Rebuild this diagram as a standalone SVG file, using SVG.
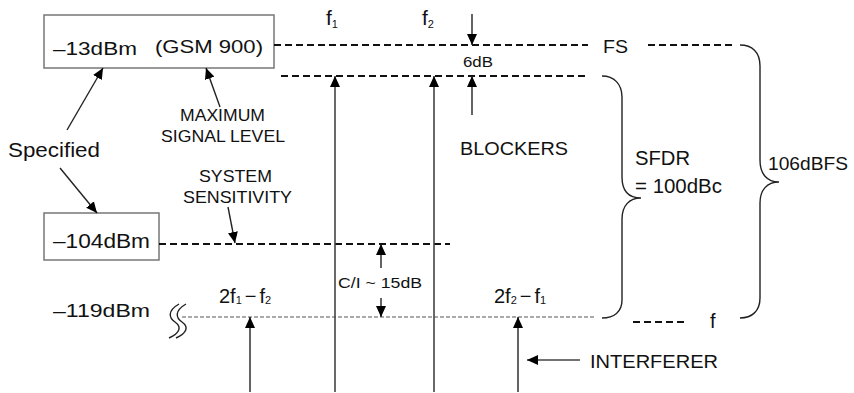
<svg xmlns="http://www.w3.org/2000/svg" width="854" height="393" viewBox="0 0 854 393">
<style>
text{font-family:"Liberation Sans",Arial,sans-serif;fill:#111}
.box{fill:#fff;stroke:#777;stroke-width:1.5}
.dash{stroke:#111;stroke-width:1.9;stroke-dasharray:7 4;fill:none}
.thin{stroke:#555;stroke-width:1;stroke-dasharray:4 2;fill:none}
.ln{stroke:#222;stroke-width:1.4;fill:none}
.vl{stroke:#444;stroke-width:1.6;fill:none}
.br{stroke:#222;stroke-width:1.4;fill:none}
</style>
<defs>
<marker id="ah" markerUnits="userSpaceOnUse" markerWidth="11" markerHeight="10" viewBox="0 0 11 10" refX="11" refY="5" orient="auto">
<path d="M0,0 L11,5 L0,10 z" fill="#000"/>
</marker>
</defs>

<g id="box-max">
<rect class="box" x="44" y="15" width="230" height="53"/>
<text x="53" y="55" font-size="19" textLength="84" lengthAdjust="spacingAndGlyphs">–13dBm</text>
<text x="155" y="53" font-size="19" textLength="108" lengthAdjust="spacingAndGlyphs">(GSM 900)</text>
</g>
<g id="box-sens">
<rect class="box" x="44" y="213" width="115" height="47"/>
<text x="53" y="248" font-size="20" textLength="97" lengthAdjust="spacingAndGlyphs">–104dBm</text>
</g>
<g id="label-119">
<text x="53" y="317" font-size="19" textLength="97" lengthAdjust="spacingAndGlyphs">–119dBm</text>
</g>
<g id="label-specified">
<text x="8" y="157" font-size="21" textLength="92" lengthAdjust="spacingAndGlyphs">Specified</text>
</g>
<g id="label-maximum">
<text x="180" y="121" font-size="16.5" textLength="85" lengthAdjust="spacingAndGlyphs">MAXIMUM</text>
<text x="161" y="142" font-size="16.5" textLength="124" lengthAdjust="spacingAndGlyphs">SIGNAL LEVEL</text>
</g>
<g id="label-sensitivity">
<text x="199" y="182" font-size="16.5" textLength="73" lengthAdjust="spacingAndGlyphs">SYSTEM</text>
<text x="183" y="203" font-size="16.5" textLength="109" lengthAdjust="spacingAndGlyphs">SENSITIVITY</text>
</g>
<g id="label-f1">
<text x="326" y="25" font-size="21">f<tspan font-size="11" dy="3">1</tspan></text>
</g>
<g id="label-f2">
<text x="422" y="25" font-size="21">f<tspan font-size="11" dy="3">2</tspan></text>
</g>
<g id="label-6db">
<text x="463" y="67" font-size="15" textLength="30" lengthAdjust="spacingAndGlyphs">6dB</text>
</g>
<g id="label-fs">
<text x="603" y="53" font-size="18" textLength="25" lengthAdjust="spacingAndGlyphs">FS</text>
</g>
<g id="label-blockers">
<text x="460" y="155" font-size="19" textLength="108" lengthAdjust="spacingAndGlyphs">BLOCKERS</text>
</g>
<g id="label-sfdr">
<text x="635" y="165" font-size="20" textLength="55" lengthAdjust="spacingAndGlyphs">SFDR</text>
<text x="635" y="193" font-size="20" textLength="87" lengthAdjust="spacingAndGlyphs">= 100dBc</text>
</g>
<g id="label-106">
<text x="768" y="170" font-size="19" textLength="80" lengthAdjust="spacingAndGlyphs">106dBFS</text>
</g>
<g id="label-ci">
<text x="338" y="288" font-size="15" textLength="84" lengthAdjust="spacingAndGlyphs">C/I ~ 15dB</text>
</g>
<g id="label-im1">
<text x="219" y="303" font-size="20">2f<tspan font-size="11" dy="1">1</tspan><tspan dx="3" dy="-1">−</tspan><tspan dx="3">f</tspan><tspan font-size="11" dy="1">2</tspan></text>
</g>
<g id="label-im2">
<text x="494" y="303" font-size="20">2f<tspan font-size="11" dy="1">2</tspan><tspan dx="3" dy="-1">−</tspan><tspan dx="3">f</tspan><tspan font-size="11" dy="1">1</tspan></text>
</g>
<g id="label-f">
<text x="710" y="328" font-size="20">f</text>
</g>
<g id="label-interferer">
<text x="590" y="368" font-size="19" textLength="128" lengthAdjust="spacingAndGlyphs">INTERFERER</text>
</g>

<g id="connectors">
<line class="dash" x1="274" y1="45" x2="588" y2="45"/>
<line class="dash" x1="648" y1="45" x2="734" y2="45"/>
<line class="dash" x1="281" y1="76" x2="588" y2="76"/>
<line class="dash" x1="159" y1="244" x2="450" y2="244"/>
<line class="thin" x1="182" y1="317" x2="594" y2="317"/>
<line class="dash" x1="633" y1="322" x2="685" y2="322"/>

<path class="br" d="M740,45 C752,45 760,52 760,66 L760,160 C760,174 767,182 779,182 C767,182 760,190 760,203 L760,298 C760,311 752,318 740,318"/>
<path class="br" d="M602,76 C614,76 622,84 622,97 L622,177 C622,191 629,198 641,198 C629,198 622,206 622,219 L622,300 C622,312 614,318 602,318"/>

<path class="ln" d="M179,304 C167,311 169,318 175,322 C182,327 180,333 169,338"/>
<path class="ln" d="M186,304 C174,311 176,318 182,322 C189,327 187,333 176,338"/>

<line class="vl" x1="335" y1="392" x2="335" y2="76" marker-end="url(#ah)"/>
<line class="vl" x1="434" y1="392" x2="434" y2="76" marker-end="url(#ah)"/>
<line class="ln" x1="472" y1="14" x2="472" y2="45" marker-end="url(#ah)"/>
<line class="ln" x1="472" y1="115" x2="472" y2="76" marker-end="url(#ah)"/>
<line class="ln" x1="381" y1="268" x2="381" y2="244" marker-end="url(#ah)"/>
<line class="ln" x1="381" y1="298" x2="381" y2="317" marker-end="url(#ah)"/>
<line class="ln" x1="250" y1="392" x2="250" y2="317" marker-end="url(#ah)"/>
<line class="ln" x1="518" y1="392" x2="518" y2="317" marker-end="url(#ah)"/>
<line class="vl" x1="580" y1="360" x2="527" y2="360" marker-end="url(#ah)"/>
<line class="ln" x1="67" y1="130" x2="103" y2="68" marker-end="url(#ah)"/>
<line class="ln" x1="60" y1="168" x2="97" y2="213" marker-end="url(#ah)"/>
<line class="ln" x1="220" y1="107" x2="206" y2="68" marker-end="url(#ah)"/>
<line class="ln" x1="228" y1="207" x2="235" y2="243" marker-end="url(#ah)"/>
</g>
</svg>
